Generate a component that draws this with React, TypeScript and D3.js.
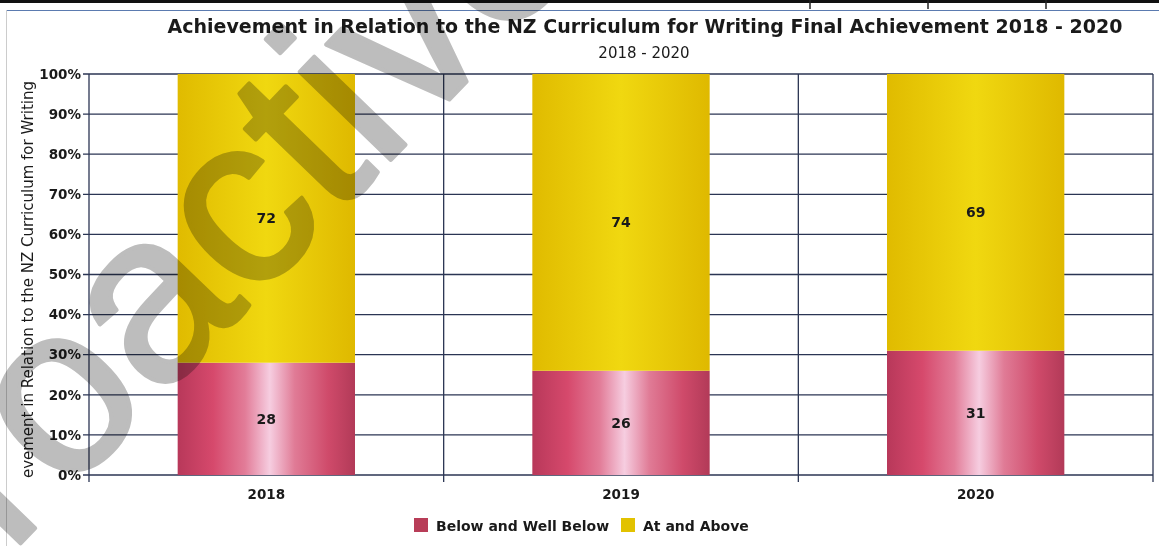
import React from 'react';
import { scaleBand, scaleLinear, stack } from 'd3';

const years = ['2018', '2019', '2020'];
const belowValues = [28, 26, 31];
const aboveValues = [72, 74, 69];
const yTicks = [0, 10, 20, 30, 40, 50, 60, 70, 80, 90, 100];
const seriesNames = ['Below and Well Below', 'At and Above'];

const W = 1159;
const H = 546;
const FONT = '"DejaVu Sans", Verdana, sans-serif';

const rows = years.map((year, i) => ({
  year,
  below: belowValues[i],
  above: aboveValues[i],
}));

export default function App() {
  const left = 89;
  const right = 1153;
  const top = 74;
  const bottom = 475;

  const x = scaleBand<string>()
    .domain(years)
    .range([left, right])
    .paddingInner(0.5)
    .paddingOuter(0.25);
  const y = scaleLinear().domain([0, 100]).range([bottom, top]);
  const step = x.step();

  const series = stack<any>().keys(['below', 'above'])(rows);
  const fills = ['url(#redGrad)', 'url(#yellowGrad)'];

  // category boundaries for vertical grid lines
  const bounds = [left, ...years.map((d) => (x(d) as number) + x.bandwidth() + step * 0.25)];

  return (
    <svg
      width={W}
      height={H}
      style={{ position: 'absolute', left: 0, top: 0, background: '#fff' }}
    >
      <defs>
        <linearGradient id="redGrad" x1="0" x2="1" y1="0" y2="0">
          <stop offset="0%" stopColor="#b8385a" />
          <stop offset="20%" stopColor="#d6496c" />
          <stop offset="38%" stopColor="#e27c98" />
          <stop offset="52%" stopColor="#f6cde0" />
          <stop offset="66%" stopColor="#e07b96" />
          <stop offset="85%" stopColor="#cf4a6a" />
          <stop offset="100%" stopColor="#b23a58" />
        </linearGradient>
        <linearGradient id="yellowGrad" x1="0" x2="1" y1="0" y2="0">
          <stop offset="0%" stopColor="#e0bb00" />
          <stop offset="50%" stopColor="#f0d810" />
          <stop offset="100%" stopColor="#dfb900" />
        </linearGradient>
        <clipPath id="ylabClip">
          <rect x={0} y={60} width={60} height={418} />
        </clipPath>
      </defs>

      {/* scanned page frame */}
      <rect x={0} y={0} width={W} height={3} fill="#111" />
      {[810, 928, 1046].map((d) => (
        <line key={d} x1={d} x2={d} y1={0} y2={9} stroke="#222" strokeWidth={1.5} />
      ))}
      <line x1={6} x2={W} y1={10.5} y2={10.5} stroke="#5b7bb0" strokeWidth={1} />
      <line x1={6.5} x2={6.5} y1={10} y2={H} stroke="#ccc" strokeWidth={1} />

      {/* titles */}
      <text
        x={645}
        y={33}
        textAnchor="middle"
        fontFamily={FONT}
        fontWeight="bold"
        fontSize={19}
        fill="#1a1a1a"
        textLength={955}
        lengthAdjust="spacingAndGlyphs"
      >
        Achievement in Relation to the NZ Curriculum for Writing Final Achievement 2018 - 2020
      </text>
      <text x={644} y={58} textAnchor="middle" fontFamily={FONT} fontSize={15} fill="#1a1a1a">
        2018 - 2020
      </text>

      {/* horizontal grid */}
      {yTicks.map((t) => (
        <g key={t}>
          <line x1={left - 6} x2={right} y1={y(t)} y2={y(t)} stroke="#2b3553" strokeWidth={1.3} />
          <text
            x={left - 8}
            y={y(t)}
            dy="0.35em"
            textAnchor="end"
            fontFamily={FONT}
            fontWeight="bold"
            fontSize={13.5}
            fill="#1a1a1a"
          >
            {t}%
          </text>
        </g>
      ))}

      {/* vertical grid */}
      {bounds.map((b, i) => (
        <line key={i} x1={b} x2={b} y1={top} y2={bottom + 7} stroke="#2b3553" strokeWidth={1.3} />
      ))}

      {/* bars */}
      {series.map((s, si) =>
        s.map((d, i) => (
          <g key={`${si}-${i}`}>
            <rect
              x={x(years[i])}
              y={y(d[1])}
              width={x.bandwidth()}
              height={y(d[0]) - y(d[1])}
              fill={fills[si]}
            />
            <text
              x={(x(years[i]) as number) + x.bandwidth() / 2}
              y={(y(d[0]) + y(d[1])) / 2}
              dy="0.35em"
              textAnchor="middle"
              fontFamily={FONT}
              fontWeight="bold"
              fontSize={14}
              fill="#1a1a1a"
            >
              {si === 0 ? belowValues[i] : aboveValues[i]}
            </text>
          </g>
        ))
      )}

      {/* x labels */}
      {years.map((yr) => (
        <text
          key={yr}
          x={(x(yr) as number) + x.bandwidth() / 2}
          y={499}
          textAnchor="middle"
          fontFamily={FONT}
          fontWeight="bold"
          fontSize={13.5}
          fill="#1a1a1a"
        >
          {yr}
        </text>
      ))}

      {/* y axis title (clipped as in the source) */}
      <g clipPath="url(#ylabClip)">
        <text
          transform="translate(33, 478) rotate(-90)"
          x={0}
          y={0}
          textAnchor="start"
          fontFamily={FONT}
          fontSize={15}
          fill="#1a1a1a"
          dx={-32}
        >
          Achievement in Relation to the NZ Curriculum for Writing
        </text>
      </g>

      {/* legend */}
      <rect x={414} y={518} width={14} height={14} fill="#b83d58" />
      <text x={436} y={531} fontFamily={FONT} fontWeight="bold" fontSize={14} fill="#1a1a1a">
        {seriesNames[0]}
      </text>
      <rect x={621} y={518} width={14} height={14} fill="#e2c200" />
      <text x={643} y={531} fontFamily={FONT} fontWeight="bold" fontSize={14} fill="#1a1a1a">
        {seriesNames[1]}
      </text>

      {/* watermark */}
      <text
        transform="translate(210, 258) rotate(-46)"
        x={0}
        y={62}
        textAnchor="middle"
        fontFamily='"Liberation Sans", Arial, sans-serif'
        fontSize={240}
        fill="#bdbdbd"
        stroke="#bdbdbd"
        strokeWidth={4}
        strokeLinejoin="round"
        style={{ mixBlendMode: 'multiply' }}
      >
        proactive
      </text>
    </svg>
  );
}
